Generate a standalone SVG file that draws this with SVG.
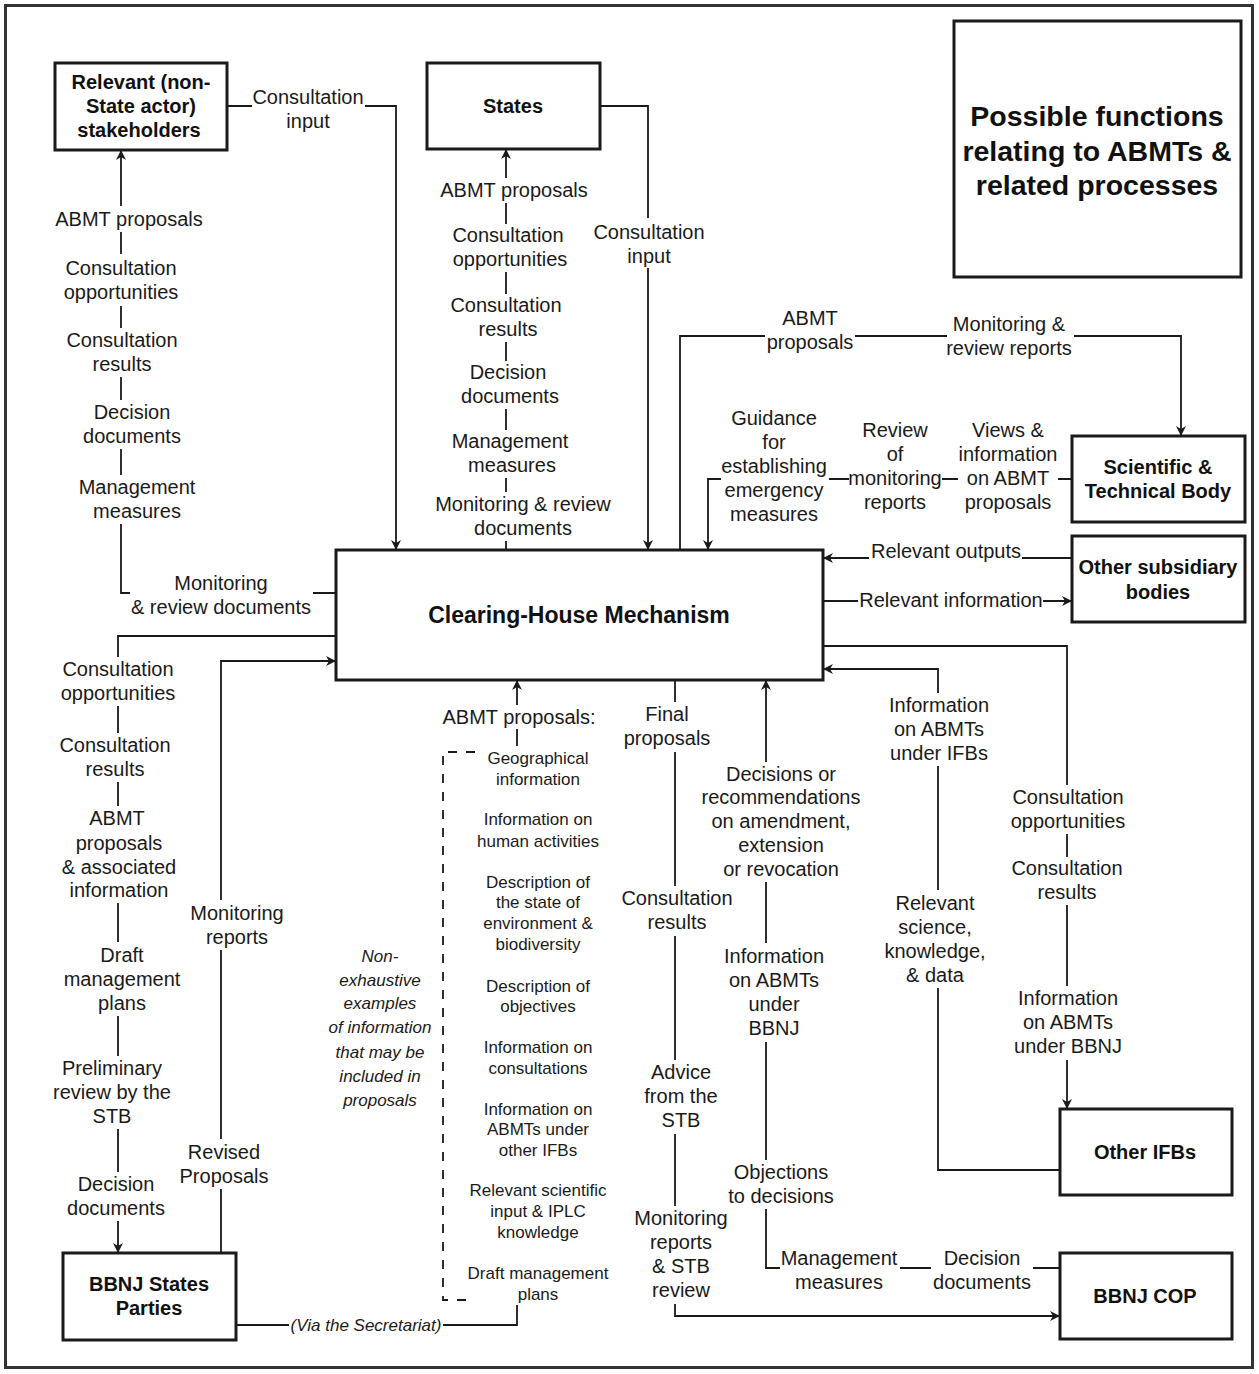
<svg xmlns="http://www.w3.org/2000/svg" width="1259" height="1374" viewBox="0 0 1259 1374">
<defs>
<marker id="arr" markerUnits="userSpaceOnUse" viewBox="0 0 10 10" refX="10" refY="5" markerWidth="11" markerHeight="10" orient="auto">
<path d="M0,0 L10,5 L0,10 L3,5 z" fill="#1a1a1a"/>
</marker>
<style>
.box{fill:#fff;stroke:#1a1a1a;stroke-width:3}
.nt{font-family:"Liberation Sans",Arial,sans-serif;font-weight:bold;font-size:20px;text-anchor:middle;fill:#111}
.lb{font-family:"Liberation Sans",Arial,sans-serif;font-size:20px;text-anchor:middle;fill:#1a1a1a}
.sm{font-family:"Liberation Sans",Arial,sans-serif;font-size:17px;text-anchor:middle;fill:#1a1a1a}
.it{font-family:"Liberation Sans",Arial,sans-serif;font-size:17px;font-style:italic;text-anchor:middle;fill:#1a1a1a}
.c{fill:none;stroke:#1a1a1a;stroke-width:1.8}
.d{fill:none;stroke:#1a1a1a;stroke-width:1.8;stroke-dasharray:9 9}
</style>
</defs>
<rect x="0" y="0" width="1259" height="1374" fill="#fff"/>
<rect x="5.5" y="5.5" width="1247" height="1362" fill="none" stroke="#333" stroke-width="3"/>

<g id="connectors">
<path class="c" d="M227,106 H252 M365,106 H396 V550" marker-end="url(#arr)"/>
<path class="c" d="M336,593 H313 M130,593 H121 V524 M121,475 V449 M121,400 V377 M121,328 V306 M121,254 V232 M121,206 V150" marker-end="url(#arr)"/>
<path class="c" d="M600,106 H648 V218 M648,268 V550" marker-end="url(#arr)"/>
<path class="c" d="M506,550 V541 M506,492 V478 M506,430 V409 M506,361 V342 M506,294 V272 M506,224 V203 M506,178 V149" marker-end="url(#arr)"/>
<path class="c" d="M680,550 V336 H765 M855,336 H947 M1074,336 H1181 V436" marker-end="url(#arr)"/>
<path class="c" d="M1072,479 H1058 M958,479 H942 M849,479 H829 M721,479 H708 V550" marker-end="url(#arr)"/>
<path class="c" d="M1072,558 H1022 M869,558 H823" marker-end="url(#arr)"/>
<path class="c" d="M823,601 H858 M1043,601 H1072" marker-end="url(#arr)"/>
<path class="c" d="M823,646 H1067 V785 M1067,834 V857 M1067,905 V986 M1067,1060 V1109" marker-end="url(#arr)"/>
<path class="c" d="M1060,1170 H938 V988 M938,890 V766 M938,693 V669 H823" marker-end="url(#arr)"/>
<path class="c" d="M1060,1268 H1033 M931,1268 H900 M780,1268 H766 V1209 M766,1160 V1042 M766,943 V882 M766,762 V680" marker-end="url(#arr)"/>
<path class="c" d="M675,680 V702 M675,752 V886 M675,936 V1060 M675,1134 V1206 M675,1304 V1316 H1060" marker-end="url(#arr)"/>
<path class="c" d="M336,636 H118 V657 M118,706 V733 M118,782 V806 M118,903 V942 M118,1016 V1056 M118,1129 V1172 M118,1221 V1253" marker-end="url(#arr)"/>
<path class="c" d="M221,1253 V1189 M221,1139 V950 M221,900 V661 H336" marker-end="url(#arr)"/>
<path class="c" d="M236,1325 H289 M443,1325 H517 V1305"/>
<path class="c" d="M517,746 V729"/>
<path class="c" d="M517,705 V680" marker-end="url(#arr)"/>
<path class="d" d="M475,752 H443 V1300 H475"/>
</g>

<g id="stakeholders">
<rect class="box" x="55" y="63" width="172" height="87"/>
<text class="nt"><tspan x="141" y="89">Relevant (non-</tspan><tspan x="141" y="113">State actor)</tspan><tspan x="139" y="137">stakeholders</tspan></text>
</g>
<g id="states">
<rect class="box" x="427" y="63" width="173" height="86"/>
<text class="nt" x="513" y="113">States</text>
</g>
<g id="title">
<rect class="box" x="954" y="21" width="287" height="256"/>
<text class="nt" style="font-size:28.5px"><tspan x="1097" y="126">Possible functions</tspan><tspan x="1097" y="161">relating to ABMTs &amp;</tspan><tspan x="1097" y="195">related processes</tspan></text>
</g>
<g id="stb">
<rect class="box" x="1072" y="436" width="173" height="86"/>
<text class="nt"><tspan x="1158" y="474">Scientific &amp;</tspan><tspan x="1158" y="498">Technical Body</tspan></text>
</g>
<g id="osb">
<rect class="box" x="1072" y="536" width="173" height="86"/>
<text class="nt"><tspan x="1158" y="574">Other subsidiary</tspan><tspan x="1158" y="599">bodies</tspan></text>
</g>
<g id="chm">
<rect class="box" x="336" y="550" width="487" height="130"/>
<text class="nt" style="font-size:23px" x="579" y="623">Clearing-House Mechanism</text>
</g>
<g id="otherifbs">
<rect class="box" x="1060" y="1109" width="172" height="86"/>
<text class="nt" x="1145" y="1159">Other IFBs</text>
</g>
<g id="bbnjcop">
<rect class="box" x="1060" y="1253" width="172" height="86"/>
<text class="nt" x="1145" y="1303">BBNJ COP</text>
</g>
<g id="bbnjsp">
<rect class="box" x="63" y="1253" width="173" height="87"/>
<text class="nt"><tspan x="149" y="1291">BBNJ States</tspan><tspan x="149" y="1315">Parties</tspan></text>
</g>

<g id="labels">
<text class="lb"><tspan x="308" y="104">Consultation</tspan><tspan x="308" y="128">input</tspan></text>
<text class="lb" x="129" y="226">ABMT proposals</text>
<text class="lb"><tspan x="121" y="275">Consultation</tspan><tspan x="121" y="299">opportunities</tspan></text>
<text class="lb"><tspan x="122" y="347">Consultation</tspan><tspan x="122" y="371">results</tspan></text>
<text class="lb"><tspan x="132" y="419">Decision</tspan><tspan x="132" y="443">documents</tspan></text>
<text class="lb"><tspan x="137" y="494">Management</tspan><tspan x="137" y="518">measures</tspan></text>
<text class="lb"><tspan x="221" y="590">Monitoring</tspan><tspan x="221" y="614">&amp; review documents</tspan></text>

<text class="lb" x="514" y="197">ABMT proposals</text>
<text class="lb"><tspan x="508" y="242">Consultation</tspan><tspan x="510" y="266">opportunities</tspan></text>
<text class="lb"><tspan x="506" y="312">Consultation</tspan><tspan x="508" y="336">results</tspan></text>
<text class="lb"><tspan x="508" y="379">Decision</tspan><tspan x="510" y="403">documents</tspan></text>
<text class="lb"><tspan x="510" y="448">Management</tspan><tspan x="512" y="472">measures</tspan></text>
<text class="lb"><tspan x="523" y="511">Monitoring &amp; review</tspan><tspan x="523" y="535">documents</tspan></text>
<text class="lb"><tspan x="649" y="239">Consultation</tspan><tspan x="649" y="263">input</tspan></text>

<text class="lb"><tspan x="810" y="325">ABMT</tspan><tspan x="810" y="349">proposals</tspan></text>
<text class="lb"><tspan x="1009" y="331">Monitoring &amp;</tspan><tspan x="1009" y="355">review reports</tspan></text>
<text class="lb"><tspan x="774" y="425">Guidance</tspan><tspan x="774" y="449">for</tspan><tspan x="774" y="473">establishing</tspan><tspan x="774" y="497">emergency</tspan><tspan x="774" y="521">measures</tspan></text>
<text class="lb"><tspan x="895" y="437">Review</tspan><tspan x="895" y="461">of</tspan><tspan x="895" y="485">monitoring</tspan><tspan x="895" y="509">reports</tspan></text>
<text class="lb"><tspan x="1008" y="437">Views &amp;</tspan><tspan x="1008" y="461">information</tspan><tspan x="1008" y="485">on ABMT</tspan><tspan x="1008" y="509">proposals</tspan></text>
<text class="lb" x="946" y="558">Relevant outputs</text>
<text class="lb" x="951" y="607">Relevant information</text>

<text class="lb"><tspan x="1068" y="804">Consultation</tspan><tspan x="1068" y="828">opportunities</tspan></text>
<text class="lb"><tspan x="1067" y="875">Consultation</tspan><tspan x="1067" y="899">results</tspan></text>
<text class="lb"><tspan x="1068" y="1005">Information</tspan><tspan x="1068" y="1029">on ABMTs</tspan><tspan x="1068" y="1053">under BBNJ</tspan></text>

<text class="lb"><tspan x="939" y="712">Information</tspan><tspan x="939" y="736">on ABMTs</tspan><tspan x="939" y="760">under IFBs</tspan></text>
<text class="lb"><tspan x="935" y="910">Relevant</tspan><tspan x="935" y="934">science,</tspan><tspan x="935" y="958">knowledge,</tspan><tspan x="935" y="982">&amp; data</tspan></text>

<text class="lb"><tspan x="781" y="781">Decisions or</tspan><tspan x="781" y="804">recommendations</tspan><tspan x="781" y="828">on amendment,</tspan><tspan x="781" y="852">extension</tspan><tspan x="781" y="876">or revocation</tspan></text>
<text class="lb"><tspan x="774" y="963">Information</tspan><tspan x="774" y="987">on ABMTs</tspan><tspan x="774" y="1011">under</tspan><tspan x="774" y="1035">BBNJ</tspan></text>
<text class="lb"><tspan x="781" y="1179">Objections</tspan><tspan x="781" y="1203">to decisions</tspan></text>
<text class="lb"><tspan x="839" y="1265">Management</tspan><tspan x="839" y="1289">measures</tspan></text>
<text class="lb"><tspan x="982" y="1265">Decision</tspan><tspan x="982" y="1289">documents</tspan></text>

<text class="lb"><tspan x="667" y="721">Final</tspan><tspan x="667" y="745">proposals</tspan></text>
<text class="lb"><tspan x="677" y="905">Consultation</tspan><tspan x="677" y="929">results</tspan></text>
<text class="lb"><tspan x="681" y="1079">Advice</tspan><tspan x="681" y="1103">from the</tspan><tspan x="681" y="1127">STB</tspan></text>
<text class="lb"><tspan x="681" y="1225">Monitoring</tspan><tspan x="681" y="1249">reports</tspan><tspan x="681" y="1273">&amp; STB</tspan><tspan x="681" y="1297">review</tspan></text>

<text class="lb"><tspan x="118" y="676">Consultation</tspan><tspan x="118" y="700">opportunities</tspan></text>
<text class="lb"><tspan x="115" y="752">Consultation</tspan><tspan x="115" y="776">results</tspan></text>
<text class="lb"><tspan x="117" y="825">ABMT</tspan><tspan x="119" y="850">proposals</tspan><tspan x="119" y="874">&amp; associated</tspan><tspan x="119" y="897">information</tspan></text>
<text class="lb"><tspan x="122" y="962">Draft</tspan><tspan x="122" y="986">management</tspan><tspan x="122" y="1010">plans</tspan></text>
<text class="lb"><tspan x="112" y="1075">Preliminary</tspan><tspan x="112" y="1099">review by the</tspan><tspan x="112" y="1123">STB</tspan></text>
<text class="lb"><tspan x="116" y="1191">Decision</tspan><tspan x="116" y="1215">documents</tspan></text>
<text class="lb"><tspan x="237" y="920">Monitoring</tspan><tspan x="237" y="944">reports</tspan></text>
<text class="lb"><tspan x="224" y="1159">Revised</tspan><tspan x="224" y="1183">Proposals</tspan></text>

<text class="lb" x="519" y="724">ABMT proposals:</text>
<text class="sm"><tspan x="538" y="764">Geographical</tspan><tspan x="538" y="785">information</tspan></text>
<text class="sm"><tspan x="538" y="825">Information on</tspan><tspan x="538" y="847">human activities</tspan></text>
<text class="sm"><tspan x="538" y="888">Description of</tspan><tspan x="538" y="908">the state of</tspan><tspan x="538" y="929">environment &amp;</tspan><tspan x="538" y="950">biodiversity</tspan></text>
<text class="sm"><tspan x="538" y="992">Description of</tspan><tspan x="538" y="1012">objectives</tspan></text>
<text class="sm"><tspan x="538" y="1053">Information on</tspan><tspan x="538" y="1074">consultations</tspan></text>
<text class="sm"><tspan x="538" y="1115">Information on</tspan><tspan x="538" y="1135">ABMTs under</tspan><tspan x="538" y="1156">other IFBs</tspan></text>
<text class="sm"><tspan x="538" y="1196">Relevant scientific</tspan><tspan x="538" y="1217">input &amp; IPLC</tspan><tspan x="538" y="1238">knowledge</tspan></text>
<text class="sm"><tspan x="538" y="1279">Draft management</tspan><tspan x="538" y="1300">plans</tspan></text>
<text class="it"><tspan x="380" y="962">Non-</tspan><tspan x="380" y="986">exhaustive</tspan><tspan x="380" y="1009">examples</tspan><tspan x="380" y="1033">of information</tspan><tspan x="380" y="1058">that may be</tspan><tspan x="380" y="1082">included in</tspan><tspan x="380" y="1106">proposals</tspan></text>
<text class="it" x="366" y="1331">(Via the Secretariat)</text>
</g>
</svg>
